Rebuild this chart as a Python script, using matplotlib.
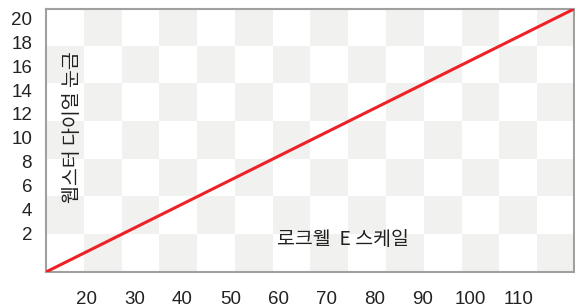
import matplotlib.pyplot as plt
import numpy as np

# Rockwell E scale vs Webster dial reading (straight conversion line)
rockwell_e = [11.6, 121.6]
webster    = [-1.25, 20.8]

x_ticks = [20, 30, 40, 50, 60, 70, 80, 90, 100, 110]
y_ticks = [2, 4, 6, 8, 10, 12, 14, 16, 18, 20]

x_label = "로크웰  E 스케일"
y_label = "웹스터 다이얼 눈금"

plt.rcParams['font.family'] = ['Liberation Sans', 'Noto Sans CJK KR', 'DejaVu Sans']

fig = plt.figure(figsize=(5.75, 3.08), dpi=100)
ax = fig.add_axes([0.08, 0.1169, 0.9183, 0.854])

# checkerboard background, 14 x 7 cells
n_cols, n_rows = 14, 7
rr, cc = np.mgrid[0:n_rows, 0:n_cols]
board = (rr + cc) % 2
ax.imshow(board, cmap=plt.matplotlib.colors.ListedColormap(['#ffffff', '#f1f1ef']),
          extent=[0, 1, 0, 1], transform=ax.transAxes, aspect='auto',
          interpolation='nearest', zorder=0)

ax.plot(rockwell_e, webster, color='#ee2226', lw=2.2, zorder=3, solid_capstyle='butt')

ax.set_xlim(rockwell_e[0], rockwell_e[1])
ax.set_ylim(webster[0], webster[1])
ax.set_xticks(x_ticks)
ax.set_yticks(y_ticks)
ax.tick_params(axis='both', length=0, labelsize=13.5, colors='#222222')
ax.tick_params(axis='x', pad=14)
ax.tick_params(axis='y', pad=10)

for s in ax.spines.values():
    s.set_color('#a0a0a0')
    s.set_linewidth(1.5)

ax.text(0.05, 0.551, y_label, transform=ax.transAxes, rotation=90,
        ha='center', va='center', fontsize=14, color='#222222',
        family=['Noto Sans CJK KR', 'DejaVu Sans'], zorder=4)
ax.text(0.5625, 0.125, x_label, transform=ax.transAxes,
        ha='center', va='center', fontsize=14, color='#222222',
        family=['Noto Sans CJK KR', 'DejaVu Sans'], zorder=4)

fig.savefig('out.png', dpi=100)
